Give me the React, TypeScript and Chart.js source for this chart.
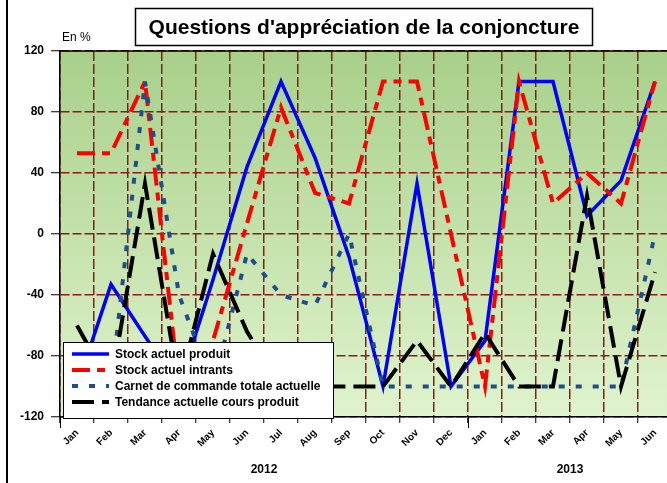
import React, { useEffect, useRef } from "react";
import { Chart, registerables } from "chart.js";

Chart.register(...registerables);

// ---------- data ----------
const months = ["Jan", "Feb", "Mar", "Apr", "May", "Jun", "Jul", "Aug", "Sep", "Oct", "Nov", "Dec", "Jan", "Feb", "Mar", "Apr", "May", "Jun"];
const years = ["2012", "2013"];
const yearSpans = [12, 6];

const stockProduit = [-100, -33, -67, -100, -30, 44, 100, 50, -15, -100, 33, -100, -70, 100, 100, 12, 35, 100];
const stockIntrants = [53, 53, 100, -100, -70, 7, 83, 27, 20, 100, 100, 0, -100, 100, 20, 40, 20, 100];
const carnetCommande = [-100, -100, 100, -40, -100, -13, -40, -47, 0, -100, -100, -100, -100, -100, -100, -100, -100, 0];
const tendanceCours = [-60, -100, 33, -100, -13, -64, -100, -100, -100, -100, -70, -100, -65, -100, -100, 25, -100, -25];

const seriesNames = [
  "Stock actuel produit",
  "Stock actuel intrants",
  "Carnet de commande totale actuelle",
  "Tendance actuelle cours produit",
];
const seriesData = [stockProduit, stockIntrants, carnetCommande, tendanceCours];

const yMin = -120;
const yMax = 120;
const yStep = 40;

const titleText = "Questions d'appréciation de la conjoncture";
const yUnit = "En %";

// ---------- styles ----------
const seriesColors = ["#0000ff", "#ff0000", "#1f4e8c", "#000000"];
const seriesWidths = [3.5, 4, 4, 4];
const seriesDashes: number[][] = [[], [18, 7, 8, 7], [6, 11], [22, 8]];
const seriesJoins = ["miter", "miter", "bevel", "miter"];
const seriesOrder = [3, 2, 1, 0];
const gridColor = "#8b1a1a";

const decorPlugin = {
  id: "decor",
  beforeDraw(chart: any) {
    const { ctx, chartArea: a } = chart;
    ctx.save();
    ctx.fillStyle = "#ffffff";
    ctx.fillRect(0, 0, chart.width, chart.height);
    const g = ctx.createLinearGradient(0, a.top, 0, a.bottom);
    g.addColorStop(0, "#a8d08a");
    g.addColorStop(1, "#e0f4cd");
    ctx.fillStyle = g;
    ctx.fillRect(a.left, a.top, a.right - a.left, a.bottom - a.top);
    ctx.restore();
  },
  afterDraw(chart: any) {
    const { ctx, chartArea: a } = chart;
    const xs = chart.scales.x;
    ctx.save();
    // top border of plot
    ctx.strokeStyle = "#000";
    ctx.lineWidth = 1.5;
    ctx.beginPath();
    ctx.moveTo(a.left, a.top);
    ctx.lineTo(a.right, a.top);
    ctx.stroke();
    // outer frame line (left)
    ctx.lineWidth = 2;
    ctx.beginPath();
    ctx.moveTo(7, 0);
    ctx.lineTo(7, chart.height);
    ctx.stroke();

    // title box
    ctx.fillStyle = "#fff";
    ctx.fillRect(135, 8, 458, 38);
    ctx.lineWidth = 1.5;
    ctx.strokeStyle = "#000";
    ctx.strokeRect(135.5, 8.5, 457, 37);
    ctx.fillStyle = "#000";
    ctx.font = "bold 21px Arial, 'Liberation Sans', sans-serif";
    ctx.textAlign = "center";
    ctx.textBaseline = "middle";
    ctx.fillText(titleText, 364, 28);

    // unit
    ctx.font = "12px Arial, 'Liberation Sans', sans-serif";
    ctx.textAlign = "left";
    ctx.fillText(yUnit, 62, 38);

    // year groups
    ctx.font = "bold 12px Arial, 'Liberation Sans', sans-serif";
    ctx.textAlign = "center";
    let start = 0;
    ctx.lineWidth = 1;
    years.forEach((yr, i) => {
      const end = start + yearSpans[i];
      const cx = (xs.getPixelForValue(start) + xs.getPixelForValue(end - 1)) / 2;
      ctx.fillText(yr, cx, 470);
      const half = (xs.getPixelForValue(1) - xs.getPixelForValue(0)) / 2;
      const bx = xs.getPixelForValue(start) - half;
      ctx.beginPath();
      ctx.moveTo(Math.round(bx) + 0.5, a.bottom);
      ctx.lineTo(Math.round(bx) + 0.5, a.bottom + 11);
      ctx.stroke();
      start = end;
    });

    // legend
    const lx = 63, ly = 342, lw = 270, lh = 76;
    ctx.fillStyle = "#fff";
    ctx.fillRect(lx, ly, lw, lh);
    ctx.strokeStyle = "#000";
    ctx.lineWidth = 1;
    ctx.strokeRect(lx + 0.5, ly + 0.5, lw, lh);
    ctx.font = "bold 12px Arial, 'Liberation Sans', sans-serif";
    ctx.textAlign = "left";
    ctx.textBaseline = "middle";
    seriesNames.forEach((name, i) => {
      const yy = Math.round(354 + i * 15.9);
      ctx.strokeStyle = seriesColors[i];
      ctx.lineWidth = seriesWidths[i];
      ctx.setLineDash(seriesDashes[i]);
      ctx.beginPath();
      ctx.moveTo(72, yy);
      ctx.lineTo(109, yy);
      ctx.stroke();
      ctx.setLineDash([]);
      ctx.fillStyle = "#000";
      ctx.fillText(name, 115, yy + 1);
    });
    ctx.restore();
  },
};

export default function App() {
  const ref = useRef<HTMLCanvasElement>(null);
  useEffect(() => {
    const canvas = ref.current;
    if (!canvas) return;
    const chart = new Chart(canvas, {
      type: "line",
      data: {
        labels: months,
        datasets: seriesData.map((d, i) => ({
          label: seriesNames[i],
          data: d,
          borderColor: seriesColors[i],
          backgroundColor: seriesColors[i],
          borderWidth: seriesWidths[i],
          borderDash: seriesDashes[i],
          borderCapStyle: "butt",
          borderJoinStyle: seriesJoins[i],
          pointRadius: 0,
          pointHoverRadius: 0,
          tension: 0,
          fill: false,
          order: seriesOrder[i],
        })),
      },
      options: {
        responsive: false,
        animation: false,
        devicePixelRatio: 1,
        events: [],
        layout: { padding: { top: 51, right: 8, left: 0, bottom: 0 } },
        plugins: {
          legend: { display: false },
          tooltip: { enabled: false },
          title: { display: false },
        },
        scales: {
          x: {
            type: "category",
            offset: true,
            grid: {
              offset: true,
              color: gridColor,
              lineWidth: 1.5,
              tickColor: "#000",
              tickLength: 6,
              tickWidth: 1,
            },
            border: { display: true, color: "#000", width: 1.5, dash: [10, 3] },
            ticks: {
              autoSkip: false,
              minRotation: 45,
              maxRotation: 45,
              padding: 4,
              color: "#000",
              font: { family: "Arial, 'Liberation Sans', sans-serif", size: 10, weight: "bold" },
            },
            afterFit(scale: any) {
              scale.height = 66;
            },
          },
          y: {
            min: yMin,
            max: yMax,
            grid: {
              color: gridColor,
              lineWidth: 1.5,
              tickColor: "#000",
              tickLength: 9,
              tickWidth: 1,
            },
            border: { display: true, color: "#000", width: 1.5, dash: [9, 3] },
            ticks: {
              stepSize: yStep,
              padding: 7,
              color: "#000",
              font: { family: "Arial, 'Liberation Sans', sans-serif", size: 12, weight: "bold" },
            },
            afterFit(scale: any) {
              scale.width = 60;
            },
          },
        },
      },
      plugins: [decorPlugin],
    } as any);
    return () => chart.destroy();
  }, []);

  return (
    <div
      style={{
        position: "fixed",
        left: 0,
        top: 0,
        width: 667,
        height: 483,
        overflow: "hidden",
        background: "#fff",
      }}
    >
      <canvas ref={ref} width={680} height={483} style={{ display: "block", width: 680, height: 483 }} />
    </div>
  );
}
